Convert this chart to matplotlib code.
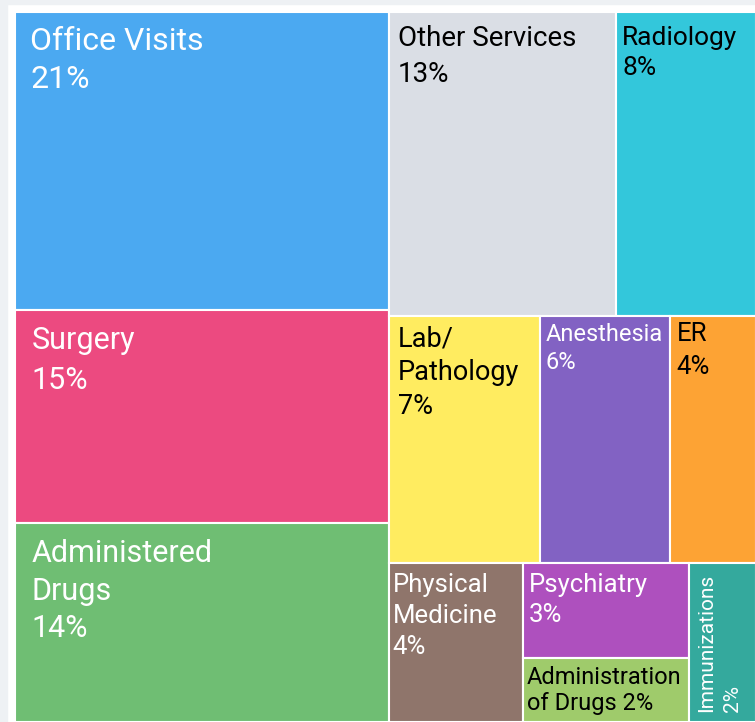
import matplotlib.pyplot as plt
from matplotlib.patches import Rectangle

plt.rcParams['font.family'] = ['Roboto', 'DejaVu Sans']

# spending share by service category (percent)
labels = ["Office Visits", "Surgery", "Administered\nDrugs", "Other Services", "Radiology",
          "Lab/\nPathology", "Anesthesia", "ER", "Physical\nMedicine", "Psychiatry",
          "Administration\nof Drugs", "Immunizations"]
values = [21, 15, 14, 13, 8, 7, 6, 4, 4, 3, 2, 2]
colors = ["#4ba9f1", "#ec4a80", "#6fbe73", "#dadee5", "#33c7db", "#ffec60",
          "#8262c3", "#fda334", "#8f756b", "#ae50be", "#9fcb6b", "#34a99d"]
text_colors = ["white", "white", "white", "black", "black", "black",
               "white", "black", "white", "white", "black", "white"]

# nesting of the slices: 'h' splits side by side, 'v' stacks top to bottom
tree = ('h', [('v', [0, 1, 2]),
              ('v', [('h', [3, 4]),
                     ('h', [5, 6, 7]),
                     ('h', [8, ('v', [9, 10]), 11])])])

# label style: font size (pt), x pad, first baseline, line step (pixels)
label_style = [(23, 15, 38, 38), (22, 16.5, 39, 40), (22, 16.5, 39, 37.5),
               (20, 8.5, 34.5, 35), (19, 6, 33, 30), (19.5, 8.5, 30.5, 33.5),
               (17, 5, 24.5, 28.5), (18.5, 7, 24.5, 33.5), (18.5, 3.5, 29.5, 31),
               (18.5, 6, 29.5, 30), (17, 4.5, 25.5, 26.5), (15, 22.5, 10, 26)]

W_PX, H_PX = 755, 722
PT = 72 / 100  # pixels -> points at dpi 100


def total(node):
    if isinstance(node, int):
        return values[node]
    return sum(total(c) for c in node[1])


def layout(node, x, y, w, h, out):
    if isinstance(node, int):
        out[node] = (x, y, w, h)
        return
    kind, children = node
    s = total(node)
    pos = 0.0
    for c in children:
        frac = total(c) / s
        if kind == 'h':
            layout(c, x + pos * w, y, frac * w, h, out)
        else:
            layout(c, x, y + pos * h, w, frac * h, out)
        pos += frac


def main():
    fig = plt.figure(figsize=(W_PX / 100, H_PX / 100), dpi=100)
    fig.patch.set_facecolor("white")
    fig.add_artist(Rectangle((0, 0), 7 / W_PX, 1, transform=fig.transFigure,
                             color="#eef1f4", zorder=0))
    fig.add_artist(Rectangle((0, 1 - 4 / H_PX), 1, 4 / H_PX, transform=fig.transFigure,
                             color="#eef1f4", zorder=0))

    ax = fig.add_axes([15 / W_PX, 0, 741 / W_PX, 710 / H_PX])
    ax.set_xlim(0, 1)
    ax.set_ylim(1, 0)
    ax.axis("off")

    cells = {}
    layout(tree, 0, 0, 1, 1, cells)

    for i, name in enumerate(labels):
        x, y, w, h = cells[i]
        ax.add_patch(Rectangle((x, y), w, h, facecolor=colors[i], edgecolor="white",
                               linewidth=1.5, clip_on=False))

        pct = f"{values[i]}%"
        lines = name.split("\n")
        if name.startswith("Administration"):
            lines[-1] += " " + pct
        else:
            lines.append(pct)

        size, dx, dy, step = label_style[i]
        if name == "Immunizations":
            # narrow cell: label runs bottom to top
            for k, line in enumerate(lines):
                ax.annotate(line, xy=(x, y + h), xytext=((dx + k * step) * PT, dy * PT),
                            textcoords="offset points", fontsize=size, color=text_colors[i],
                            rotation=90, rotation_mode="anchor", ha="left", va="baseline")
            continue
        for k, line in enumerate(lines):
            ax.annotate(line, xy=(x, y), xytext=(dx * PT, -(dy + k * step) * PT),
                        textcoords="offset points", fontsize=size, color=text_colors[i],
                        ha="left", va="baseline")

    fig.savefig("out.png", dpi=100)
    plt.close(fig)


if __name__ == "__main__":
    main()
